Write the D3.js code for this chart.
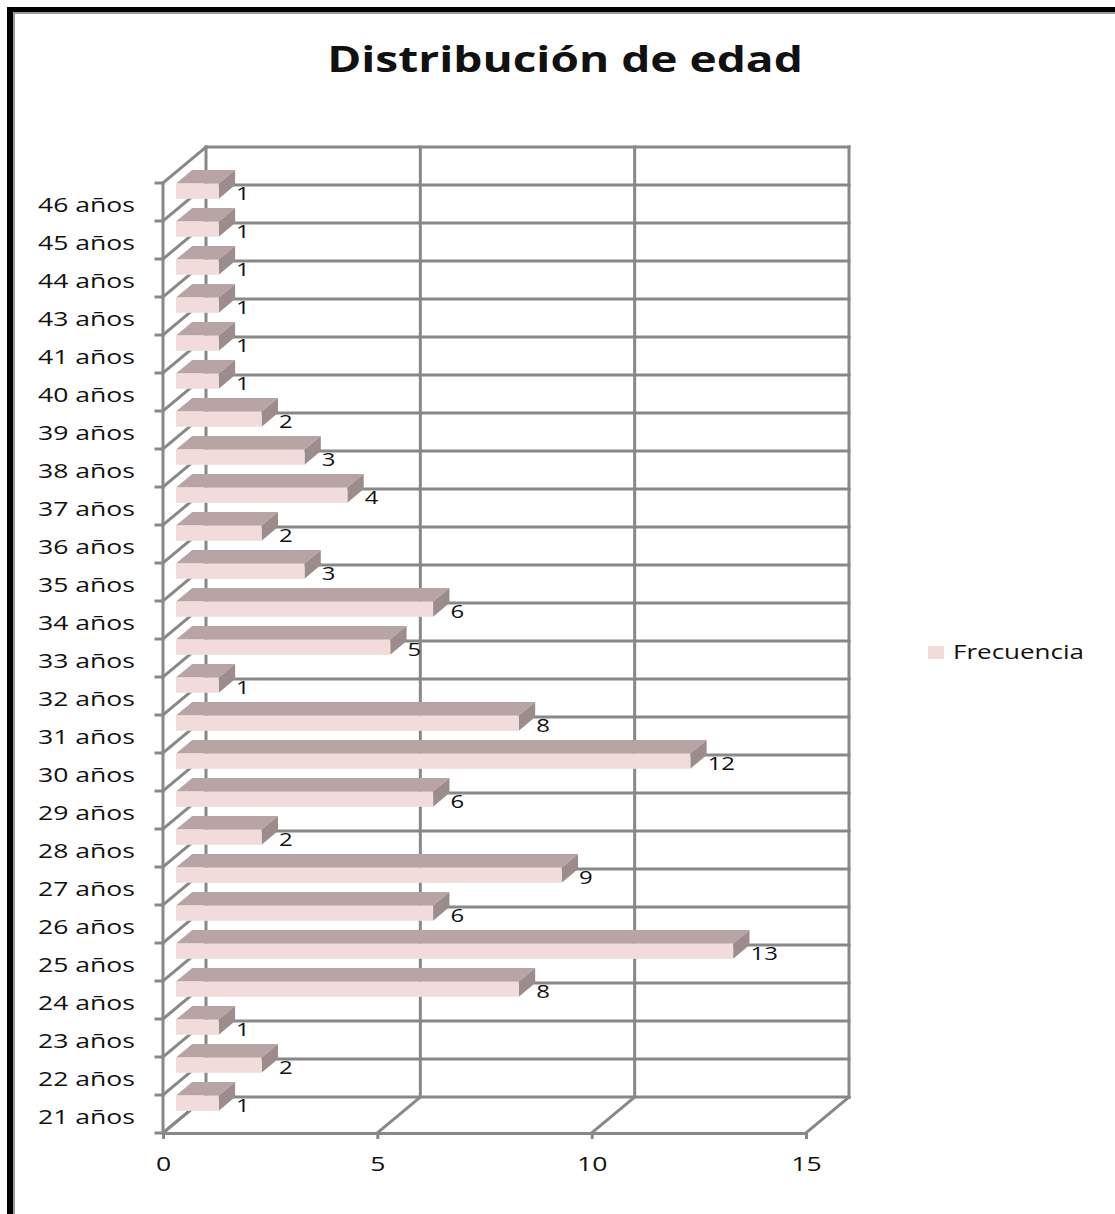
<!DOCTYPE html>
<html>
<head>
<meta charset="utf-8">
<script src="https://cdn.jsdelivr.net/npm/d3@7"></script>
<style>
  html, body { margin: 0; padding: 0; background: #ffffff; }
  svg { display: block; }
  text { font-family: "Open Sans", "DejaVu Sans", sans-serif; fill: #111; }
</style>
</head>
<body>
<svg id="chart" width="1115" height="1214"></svg>
<script>
// Age groups, bottom to top
const categories = [
  "21 años", "22 años", "23 años", "24 años", "25 años", "26 años", "27 años",
  "28 años", "29 años", "30 años", "31 años", "32 años", "33 años", "34 años",
  "35 años", "36 años", "37 años", "38 años", "39 años", "40 años", "41 años",
  "43 años", "44 años", "45 años", "46 años"
];
// Number of people per age
const frecuencia = [1, 2, 1, 8, 13, 6, 9, 2, 6, 12, 8, 1, 5, 6, 3, 2, 4, 3, 2, 1, 1, 1, 1, 1, 1];
const xTicks = [0, 5, 10, 15];
const seriesName = "Frecuencia";
const titleText = "Distribución de edad";

const svg = d3.select("#chart");
const SX = 1.33;            // horizontal stretch of the lettering
const depth = [43, -36];    // oblique offset from front plane to back wall
const d1 = 0.30, d2 = 0.68; // depth slice occupied by the bars
const gridColor = "#888888";

// stretch text horizontally around its anchor point
function stretch(sel, sx) {
  sel.each(function () {
    const t = d3.select(this);
    const x = +t.attr("x") || 0, y = +t.attr("y") || 0;
    t.attr("x", 0).attr("y", 0)
     .attr("transform", `translate(${x},${y}) scale(${sx},1)`);
  });
}

// chart frame
svg.append("rect").attr("x", 0).attr("y", 0).attr("width", 1115).attr("height", 1214).attr("fill", "#fff");
svg.append("rect").attr("x", 7).attr("y", 7).attr("width", 1200).attr("height", 1300).attr("fill", "#000");
svg.append("rect").attr("x", 13).attr("y", 12).attr("width", 1200).attr("height", 1300).attr("fill", "#9a9a9a");
svg.append("rect").attr("x", 15).attr("y", 14).attr("width", 1200).attr("height", 1300).attr("fill", "#fff");

// title
svg.append("text")
  .attr("x", 565).attr("y", 72)
  .attr("text-anchor", "middle")
  .style("font-size", "36px").style("font-weight", "700")
  .text(titleText)
  .call(stretch, 1.28);

// scales
const x = d3.scaleLinear().domain([0, 15]).range([163, 806]);
const y = d3.scaleBand().domain(categories).range([1133, 183])
  .paddingInner(0.6).paddingOuter(0.3);
const step = y.step();
const yBottom = y.range()[0], yTop = y.range()[1];
const bounds = d3.range(categories.length + 1).map(k => yBottom - k * step);

const grid = svg.append("g")
  .attr("fill", "none").attr("stroke", gridColor)
  .attr("stroke-width", 3).attr("stroke-linecap", "square");

// back wall: horizontal lines at category boundaries
grid.selectAll("line.bh").data(bounds).join("line")
  .attr("x1", x(0) + depth[0]).attr("x2", x(15) + depth[0])
  .attr("y1", d => d + depth[1]).attr("y2", d => d + depth[1]);
// back wall: vertical lines at value ticks
grid.selectAll("line.bv").data(xTicks).join("line")
  .attr("x1", d => x(d) + depth[0]).attr("x2", d => x(d) + depth[0])
  .attr("y1", yTop + depth[1]).attr("y2", yBottom + depth[1]);
// left wall: oblique lines at category boundaries
grid.selectAll("line.lw").data(bounds).join("line")
  .attr("x1", x(0)).attr("y1", d => d)
  .attr("x2", x(0) + depth[0]).attr("y2", d => d + depth[1]);
// floor: oblique lines at value ticks
grid.selectAll("line.fl").data(xTicks).join("line")
  .attr("x1", d => x(d)).attr("y1", yBottom)
  .attr("x2", d => x(d) + depth[0]).attr("y2", yBottom + depth[1]);

// bars (front, top and end faces of each box)
const o1 = [depth[0] * d1, depth[1] * d1];
const o2 = [depth[0] * d2, depth[1] * d2];
const rows = categories.map((c, i) => ({ c, v: frecuencia[i] }));
const bars = svg.append("g").selectAll("g").data(rows).join("g");

bars.append("path") // top face
  .attr("fill", "#b8a4a4")
  .attr("d", d => {
    const x0 = x(0), x1 = x(d.v), yt = y(d.c);
    return `M${x0 + o1[0]},${yt + o1[1]}L${x1 + o1[0]},${yt + o1[1]}` +
           `L${x1 + o2[0]},${yt + o2[1]}L${x0 + o2[0]},${yt + o2[1]}Z`;
  });
bars.append("path") // end face
  .attr("fill", "#9c8c8c")
  .attr("d", d => {
    const x1 = x(d.v), yt = y(d.c), yb = y(d.c) + y.bandwidth();
    return `M${x1 + o1[0]},${yt + o1[1]}L${x1 + o2[0]},${yt + o2[1]}` +
           `L${x1 + o2[0]},${yb + o2[1]}L${x1 + o1[0]},${yb + o1[1]}Z`;
  });
bars.append("rect") // front face
  .attr("fill", "#f2dcdb")
  .attr("x", x(0) + o1[0])
  .attr("y", d => y(d.c) + o1[1])
  .attr("width", d => x(d.v) - x(0))
  .attr("height", y.bandwidth());

// value labels
bars.append("text")
  .attr("x", d => x(d.v) + o2[0] + 1)
  .attr("y", d => y(d.c) + y.bandwidth() + o1[1] + 1)
  .style("font-size", "18px")
  .text(d => d.v)
  .call(stretch, SX);

// front axes
const front = svg.append("g").attr("stroke", gridColor).attr("stroke-width", 3)
  .attr("stroke-linecap", "square");
front.append("line").attr("x1", x(0)).attr("x2", x(0)).attr("y1", yTop).attr("y2", yBottom);
front.selectAll("line.tk").data(bounds).join("line")
  .attr("x1", x(0) - 7).attr("x2", x(0)).attr("y1", d => d).attr("y2", d => d);

// category axis labels
const yAxis = svg.append("g")
  .attr("transform", `translate(${x(0)},0)`)
  .call(d3.axisLeft(y).tickSize(0).tickPadding(0));
yAxis.select(".domain").remove();
yAxis.selectAll(".tick text")
  .attr("x", -28).attr("y", 10).attr("dy", null)
  .style("font-size", "20px").style("font-family", "'Open Sans', sans-serif")
  .attr("fill", "#111")
  .call(stretch, SX);
yAxis.selectAll(".tick").attr("transform", d => `translate(0,${y(d) + y.bandwidth() / 2})`);

// value axis
const xAxis = svg.append("g")
  .attr("transform", `translate(0,${yBottom})`)
  .call(d3.axisBottom(x).tickValues(xTicks).tickSize(6).tickSizeOuter(0));
xAxis.select(".domain").attr("stroke", gridColor).attr("stroke-width", 3);
xAxis.selectAll(".tick line").attr("stroke", gridColor).attr("stroke-width", 3);
xAxis.selectAll(".tick text")
  .attr("y", 38).attr("dy", null)
  .style("font-size", "20px").style("font-family", "'Open Sans', sans-serif")
  .attr("fill", "#111")
  .call(stretch, SX);

// legend
const legend = svg.append("g");
legend.append("rect").attr("x", 928).attr("y", 646).attr("width", 16).attr("height", 13).attr("fill", "#f2dcdb");
legend.append("text").attr("x", 953).attr("y", 659)
  .style("font-size", "20px").text(seriesName)
  .call(stretch, 1.3);
</script>
</body>
</html>
